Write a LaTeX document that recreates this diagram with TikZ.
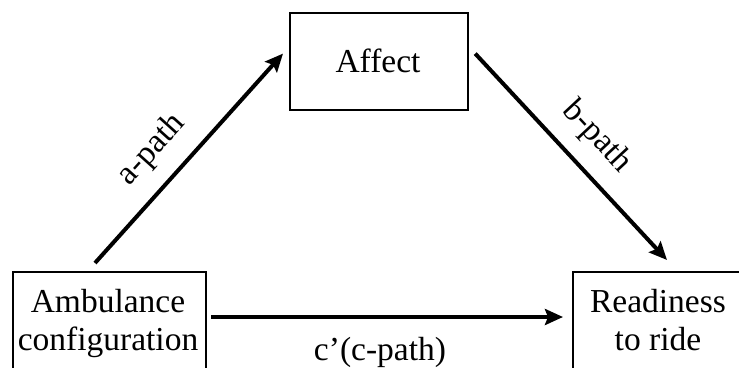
\documentclass[tikz,border=0pt]{standalone}
\usepackage{fontspec}
\setmainfont{Liberation Serif}
\usetikzlibrary{arrows.meta,calc}
\begin{document}
\begin{tikzpicture}[x=1pt,y=-1pt,
  box/.style={draw,line width=2.2pt,inner sep=0pt,anchor=north west},
  txt/.style={font=\fontsize{33.5}{38}\selectfont,inner sep=0pt},
  conn/.style={line width=4pt,-{Stealth[length=18pt,width=16pt,inset=3pt]}}]
\useasboundingbox (0,0) rectangle (739,367);
\clip (0,0) rectangle (739,367);
\node[box,minimum width=193pt,minimum height=120pt] (amb) at (12,271) {};
\node[box,minimum width=190pt,minimum height=120pt] (rdy) at (572,271) {};
\node[box,minimum width=178pt,minimum height=97pt] (aff) at (289,12) {};
\node[txt,anchor=base] (affT) at (378,72) {Affect};
\node[txt,anchor=base] (amb1) at (108,312) {Ambulance};
\node[txt,anchor=base] (amb2) at (108,350) {configuration};
\node[txt,anchor=base] (rdy1) at (658,312) {Readiness};
\node[txt,anchor=base] (rdy2) at (658,350) {to ride};
\coordinate (aS) at ($(amb.north west)+(83,-8)$);
\coordinate (aE) at ($(aff.west)+(-6,-8)$);
\coordinate (bS) at ($(aff.east)+(6,-8)$);
\coordinate (bE) at ($(rdy.north west)+(95,-11)$);
\coordinate (cS) at ($(amb.north east)+(4,46)$);
\coordinate (cE) at ($(rdy.north west)+(-9,46)$);
\draw[conn] (aS) -- (aE);
\draw[conn] (bS) -- (bE);
\draw[conn] (cS) -- (cE);
\node[txt,rotate=48] (aL) at (152,150) {a-path};
\node[txt,rotate=-47] (bL) at (597,137) {b-path};
\node[txt,anchor=base] (cL) at (380,360) {c’(c-path)};
\end{tikzpicture}
\end{document}
